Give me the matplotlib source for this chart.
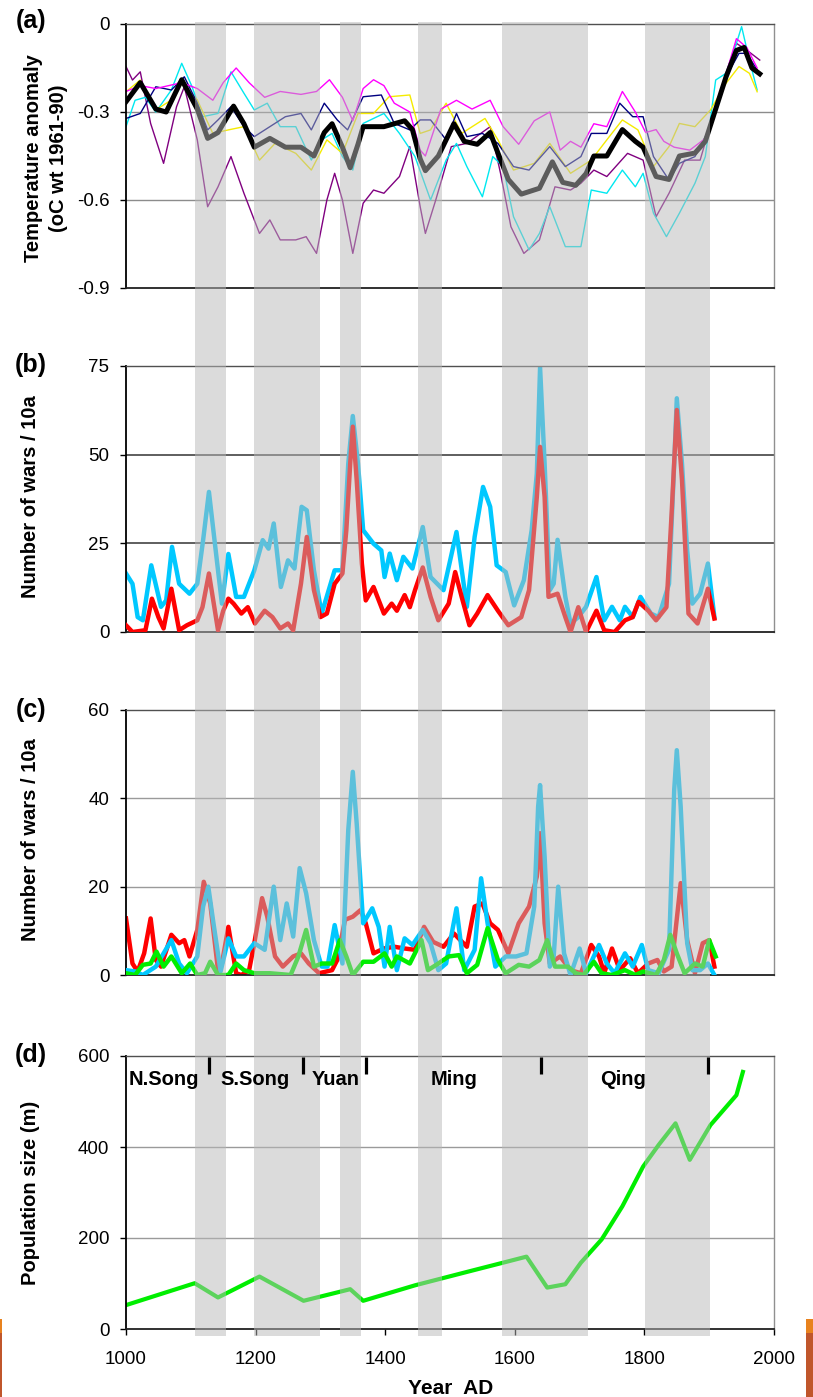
import matplotlib
matplotlib.use("Agg")
import matplotlib.pyplot as plt
from matplotlib import transforms
from matplotlib.patches import Rectangle

plt.rcParams['font.family'] = ['Liberation Sans', 'DejaVu Sans']

# ---------------- data ----------------
# cold phases (shaded)
band_start = [1107, 1197, 1330, 1450, 1581, 1801]
band_end = [1154, 1300, 1363, 1488, 1713, 1902]

# (a) temperature reconstructions, anomaly wrt 1961-90
comp_yr = [1000, 1022, 1046, 1062, 1086, 1110, 1126, 1142, 1166, 1182, 1198, 1222, 1246, 1270,
           1290, 1306, 1318, 1334, 1346, 1358, 1366, 1398, 1430, 1442, 1454, 1462, 1482, 1506,
           1522, 1542, 1562, 1574, 1590, 1610, 1638, 1658, 1674, 1694, 1710, 1722, 1742, 1766,
           1786, 1798, 1818, 1838, 1854, 1878, 1894, 1910, 1926, 1942, 1954, 1966, 1978]
comp_val = [-0.265, -0.20, -0.29, -0.30, -0.19, -0.29, -0.39, -0.37, -0.28, -0.34, -0.42, -0.39,
            -0.42, -0.42, -0.45, -0.37, -0.34, -0.42, -0.49, -0.41, -0.35, -0.35, -0.33, -0.36,
            -0.46, -0.50, -0.45, -0.34, -0.40, -0.41, -0.37, -0.44, -0.53, -0.58, -0.56, -0.47,
            -0.54, -0.55, -0.51, -0.45, -0.45, -0.36, -0.40, -0.42, -0.52, -0.53, -0.45, -0.44,
            -0.40, -0.29, -0.18, -0.09, -0.08, -0.15, -0.17]

mag_yr = [1000, 1022, 1046, 1086, 1110, 1134, 1150, 1170, 1190, 1214, 1238, 1270, 1294, 1314,
          1334, 1350, 1366, 1382, 1398, 1414, 1438, 1454, 1462, 1486, 1510, 1534, 1562, 1582,
          1606, 1630, 1654, 1670, 1686, 1702, 1722, 1742, 1766, 1786, 1802, 1818, 1830, 1846,
          1870, 1894, 1910, 1926, 1942, 1958, 1974]
mag_val = [-0.23, -0.21, -0.22, -0.20, -0.22, -0.26, -0.20, -0.15, -0.20, -0.25, -0.23, -0.24,
           -0.23, -0.19, -0.25, -0.33, -0.22, -0.19, -0.21, -0.27, -0.30, -0.43, -0.45, -0.29,
           -0.26, -0.29, -0.26, -0.35, -0.41, -0.33, -0.30, -0.43, -0.40, -0.42, -0.34, -0.35,
           -0.23, -0.30, -0.37, -0.36, -0.40, -0.42, -0.43, -0.39, -0.28, -0.17, -0.05, -0.08,
           -0.15]

cyan_yr = [1000, 1014, 1030, 1046, 1070, 1086, 1102, 1118, 1142, 1162, 1182, 1198, 1218, 1238,
           1262, 1286, 1302, 1318, 1334, 1350, 1366, 1398, 1422, 1446, 1470, 1494, 1510, 1526,
           1550, 1566, 1582, 1598, 1622, 1638, 1654, 1678, 1702, 1718, 1742, 1766, 1786, 1798,
           1814, 1834, 1854, 1878, 1894, 1910, 1926, 1942, 1950, 1962, 1974]
cyan_val = [-0.35, -0.26, -0.25, -0.30, -0.225, -0.134, -0.214, -0.316, -0.305, -0.163, -0.236,
            -0.293, -0.27, -0.35, -0.35, -0.464, -0.395, -0.373, -0.452, -0.498, -0.339, -0.305,
            -0.373, -0.452, -0.60, -0.464, -0.407, -0.486, -0.589, -0.452, -0.486, -0.657, -0.77,
            -0.714, -0.623, -0.759, -0.759, -0.566, -0.577, -0.498, -0.555, -0.509, -0.645,
            -0.725, -0.645, -0.543, -0.452, -0.191, -0.168, -0.066, -0.009, -0.123, -0.225]

yel_yr = [1000, 1022, 1046, 1070, 1086, 1110, 1134, 1158, 1182, 1206, 1230, 1262, 1286, 1310,
          1334, 1358, 1382, 1406, 1438, 1454, 1470, 1494, 1518, 1554, 1574, 1598, 1630, 1654,
          1686, 1718, 1742, 1766, 1790, 1814, 1838, 1854, 1878, 1902, 1926, 1946, 1962, 1974]
yel_val = [-0.231, -0.191, -0.293, -0.259, -0.202, -0.259, -0.373, -0.361, -0.35, -0.464, -0.407,
           -0.441, -0.498, -0.395, -0.441, -0.305, -0.305, -0.248, -0.242, -0.373, -0.361, -0.27,
           -0.373, -0.322, -0.395, -0.498, -0.475, -0.407, -0.509, -0.464, -0.395, -0.327,
           -0.361, -0.486, -0.418, -0.339, -0.35, -0.293, -0.202, -0.145, -0.168, -0.231]

navy_yr = [1000, 1022, 1046, 1070, 1090, 1110, 1126, 1142, 1162, 1182, 1198, 1222, 1246, 1270,
           1286, 1306, 1326, 1342, 1366, 1394, 1414, 1438, 1454, 1470, 1494, 1510, 1526, 1550,
           1574, 1598, 1622, 1654, 1678, 1702, 1718, 1742, 1762, 1782, 1798, 1814, 1838, 1854,
           1878, 1902, 1926, 1946, 1958, 1974]
navy_val = [-0.322, -0.305, -0.214, -0.225, -0.18, -0.27, -0.361, -0.327, -0.282, -0.35, -0.384,
            -0.35, -0.316, -0.305, -0.361, -0.27, -0.327, -0.361, -0.248, -0.242, -0.339, -0.361,
            -0.327, -0.327, -0.395, -0.305, -0.384, -0.373, -0.407, -0.486, -0.498, -0.418,
            -0.486, -0.452, -0.373, -0.373, -0.27, -0.316, -0.316, -0.452, -0.532, -0.475,
            -0.452, -0.35, -0.18, -0.10, -0.10, -0.157]

pur_yr = [1000, 1010, 1022, 1038, 1058, 1078, 1090, 1110, 1126, 1142, 1162, 1182, 1206, 1222,
          1238, 1262, 1278, 1294, 1310, 1322, 1334, 1350, 1366, 1382, 1398, 1422, 1438, 1454,
          1462, 1478, 1502, 1526, 1562, 1578, 1594, 1614, 1638, 1662, 1686, 1702, 1722, 1742,
          1774, 1798, 1818, 1838, 1862, 1886, 1910, 1926, 1942, 1958, 1978]
pur_val = [-0.145, -0.191, -0.163, -0.339, -0.475, -0.282, -0.214, -0.395, -0.623, -0.555,
           -0.452, -0.577, -0.714, -0.668, -0.736, -0.736, -0.725, -0.782, -0.60, -0.509, -0.60,
           -0.782, -0.611, -0.566, -0.577, -0.52, -0.418, -0.623, -0.714, -0.60, -0.418, -0.407,
           -0.35, -0.509, -0.691, -0.782, -0.736, -0.555, -0.566, -0.543, -0.498, -0.52, -0.441,
           -0.464, -0.657, -0.577, -0.464, -0.464, -0.282, -0.168, -0.066, -0.089, -0.123]

# (b) war frequency per decade
b_blue_yr = [1000, 1010, 1018, 1026, 1039, 1054, 1062, 1071, 1082, 1098, 1110, 1119, 1128, 1136,
             1148, 1158, 1170, 1182, 1198, 1211, 1220, 1228, 1239, 1250, 1260, 1271, 1279, 1290,
             1302, 1322, 1334, 1343, 1350, 1358, 1366, 1382, 1394, 1399, 1407, 1418, 1428, 1442,
             1458, 1470, 1490, 1510, 1526, 1538, 1551, 1562, 1572, 1586, 1599, 1614, 1626, 1634,
             1639, 1646, 1654, 1660, 1666, 1678, 1686, 1698, 1710, 1726, 1738, 1750, 1762, 1770,
             1782, 1794, 1810, 1822, 1838, 1846, 1850, 1858, 1866, 1874, 1886, 1898, 1908]
b_blue_val = [16.5, 13.6, 4.2, 3.3, 18.8, 7.1, 8.9, 24.0, 13.6, 10.8, 13.6, 25.9, 39.5, 26.8,
              8.0, 22.0, 9.9, 9.9, 17.4, 25.9, 23.5, 30.6, 12.7, 20.2, 17.9, 35.3, 34.3, 17.4,
              5.2, 17.4, 17.4, 47.5, 60.9, 47.5, 28.7, 24.9, 23.0, 15.5, 22.1, 14.6, 21.2, 17.9,
              29.6, 15.5, 11.8, 28.2, 7.1, 26.8, 40.9, 35.3, 18.8, 16.9, 7.5, 14.6, 28.7, 44.7,
              74.6, 47.5, 11.8, 13.6, 26.0, 9.9, 2.4, 4.2, 7.1, 15.5, 3.3, 7.1, 3.3, 7.1, 4.2,
              9.9, 5.2, 4.2, 13.6, 47.5, 65.9, 47.5, 23.0, 8.0, 10.8, 19.3, 4.2]

b_red_yr = [1000, 1010, 1030, 1040, 1050, 1058, 1070, 1082, 1094, 1110, 1118, 1128, 1142, 1150,
            1158, 1166, 1178, 1188, 1199, 1214, 1226, 1238, 1250, 1258, 1270, 1279, 1290, 1300,
            1310, 1322, 1334, 1340, 1346, 1350, 1356, 1364, 1370, 1382, 1398, 1410, 1418, 1430,
            1438, 1446, 1458, 1470, 1482, 1498, 1508, 1518, 1530, 1542, 1558, 1574, 1590, 1610,
            1622, 1634, 1639, 1646, 1652, 1666, 1678, 1686, 1698, 1710, 1726, 1738, 1754, 1770,
            1782, 1791, 1806, 1818, 1834, 1842, 1850, 1858, 1868, 1882, 1898, 1908]
b_red_val = [1.9, 0.0, 0.5, 9.4, 4.2, 1.0, 12.2, 0.5, 1.9, 3.3, 7.0, 16.5, 0.5, 6.0, 9.4, 8.0,
             5.2, 7.0, 2.4, 6.0, 4.2, 1.0, 2.4, 0.5, 13.6, 26.8, 11.8, 4.2, 5.2, 13.6, 16.5, 28.7,
             47.5, 57.9, 42.8, 19.3, 8.9, 12.7, 5.2, 8.0, 6.0, 10.4, 7.0, 11.8, 18.2, 9.9, 3.3,
             8.0, 16.9, 9.9, 1.9, 5.2, 10.4, 6.0, 1.9, 4.2, 11.8, 38.1, 52.2, 38.1, 9.9, 10.8,
             4.2, 0.0, 7.0, 0.0, 6.0, 0.5, 0.0, 3.3, 4.2, 8.5, 6.0, 3.3, 7.0, 33.4, 62.6, 42.8,
             5.2, 2.4, 12.2, 3.8]

# (c) war frequency per decade, by region
c_red_yr = [1000, 1010, 1018, 1028, 1038, 1046, 1054, 1070, 1082, 1090, 1098, 1110, 1120, 1130,
            1142, 1148, 1158, 1170, 1178, 1190, 1198, 1210, 1218, 1230, 1242, 1258, 1270, 1282,
            1298, 1318, 1326, 1338, 1350, 1362, 1370, 1382, 1398, 1414, 1430, 1446, 1460, 1474,
            1490, 1506, 1526, 1538, 1550, 1562, 1574, 1590, 1606, 1622, 1634, 1639, 1646, 1654,
            1670, 1686, 1702, 1718, 1730, 1738, 1750, 1762, 1778, 1790, 1806, 1820, 1830, 1842,
            1856, 1866, 1878, 1890, 1900, 1908]
c_red_val = [12.8, 2.6, 0.8, 4.9, 12.8, 3.4, 1.9, 9.1, 7.2, 7.9, 4.2, 10.2, 21.1, 16.2, 1.1, 2.6,
             10.9, 0.4, 0.0, 1.1, 7.2, 17.4, 13.2, 4.2, 1.9, 4.2, 4.9, 2.6, 0.4, 1.1, 3.4, 12.5,
             13.2, 14.7, 11.7, 4.9, 6.0, 6.4, 6.0, 5.7, 10.9, 7.5, 6.4, 9.4, 6.4, 15.5, 16.2,
             11.7, 10.2, 4.9, 11.7, 15.5, 22.3, 32.1, 11.7, 2.6, 4.2, 1.1, 0.4, 6.8, 4.2, 0.4,
             6.0, 1.1, 3.8, 0.4, 2.6, 3.4, 0.8, 1.9, 20.8, 7.9, 0.4, 7.2, 7.9, 1.9]

c_blue_yr = [1000, 1014, 1026, 1046, 1070, 1082, 1094, 1110, 1119, 1127, 1135, 1146, 1158, 1170,
             1182, 1198, 1214, 1228, 1238, 1248, 1258, 1268, 1278, 1290, 1302, 1311, 1322, 1334,
             1343, 1350, 1356, 1366, 1380, 1390, 1399, 1407, 1418, 1430, 1442, 1458, 1470, 1482,
             1494, 1510, 1522, 1538, 1548, 1558, 1570, 1586, 1602, 1618, 1630, 1636, 1639, 1646,
             1654, 1660, 1667, 1676, 1686, 1700, 1710, 1730, 1742, 1754, 1770, 1782, 1796, 1806,
             1822, 1838, 1846, 1850, 1856, 1866, 1874, 1886, 1898, 1908]
c_blue_val = [1.1, 0.8, 0.0, 1.9, 7.9, 2.6, 0.4, 4.2, 15.5, 20.0, 11.7, 0.8, 8.3, 4.2, 4.2, 7.2,
              5.7, 20.0, 7.9, 16.2, 8.7, 24.2, 18.5, 7.9, 1.9, 1.9, 11.3, 2.6, 32.8, 46.0, 34.3,
              11.7, 15.1, 10.9, 1.9, 10.9, 1.1, 8.3, 6.8, 10.2, 7.2, 1.1, 2.6, 15.1, 1.1, 5.7,
              21.9, 11.7, 1.9, 4.2, 4.2, 4.9, 15.5, 38.1, 43.0, 26.8, 1.9, 4.2, 20.0, 4.9, 0.0,
              6.0, 0.4, 6.8, 2.6, 0.4, 4.9, 1.9, 6.8, 1.1, 0.4, 5.7, 41.9, 50.9, 38.1, 7.2, 1.1,
              1.1, 2.6, 0.0]

c_green_yr = [1000, 1014, 1026, 1038, 1047, 1058, 1070, 1086, 1099, 1110, 1122, 1130, 1142, 1158,
              1170, 1182, 1198, 1222, 1254, 1266, 1278, 1290, 1302, 1318, 1330, 1340, 1350, 1366,
              1382, 1399, 1410, 1418, 1438, 1456, 1466, 1482, 1498, 1514, 1526, 1542, 1558, 1574,
              1586, 1606, 1622, 1638, 1650, 1662, 1682, 1694, 1706, 1722, 1734, 1750, 1770, 1786,
              1798, 1818, 1830, 1840, 1850, 1862, 1878, 1890, 1900, 1910]
c_green_val = [0.4, 0.0, 2.3, 2.6, 5.3, 1.9, 4.2, 0.4, 2.6, 0.0, 0.4, 3.0, 0.0, 0.0, 2.6, 1.1,
               0.4, 0.4, 0.0, 4.2, 10.2, 1.9, 2.6, 2.6, 7.9, 4.2, 0.0, 3.0, 3.0, 4.9, 1.9, 4.2,
               2.6, 7.9, 1.1, 2.6, 4.2, 4.5, 0.4, 2.3, 10.6, 3.4, 0.4, 2.3, 1.9, 3.4, 7.9, 1.9,
               1.9, 0.4, 0.0, 3.0, 0.4, 0.0, 1.1, 0.0, 0.8, 0.0, 3.4, 9.1, 4.9, 0.4, 2.6, 1.9,
               7.9, 4.2]

# (d) population size (million)
pop_yr = [1000, 1106, 1142, 1206, 1274, 1346, 1366, 1446, 1526, 1582, 1618, 1650, 1678, 1702,
          1734, 1766, 1798, 1822, 1848, 1870, 1902, 1942, 1952]
pop_val = [52.5, 100.6, 69.3, 115.2, 62.0, 87.5, 62.0, 96.0, 125.4, 145.8, 159.0, 91.0, 98.4,
           145.8, 196.8, 269.7, 357.0, 404.6, 452.0, 371.8, 448.3, 514.0, 565.0]

dyn_names = ['N.Song', 'S.Song', 'Yuan', 'Ming', 'Qing']
dyn_label_yr = [1004, 1145, 1286, 1470, 1731]
dyn_end = [1128, 1273, 1370, 1640, 1898]

a_ticks = [0, -0.3, -0.6, -0.9]
a_ticklabels = ['0', '-0.3', '-0.6', '-0.9']
b_ticks = [0, 25, 50, 75]
c_ticks = [0, 20, 40, 60]
d_ticks = [0, 200, 400, 600]
x_ticks = [1000, 1200, 1400, 1600, 1800, 2000]

# ---------------- layout ----------------
W, H = 813, 1397
fig = plt.figure(figsize=(W / 100, H / 100), dpi=100)


def fx(px):
    return px / W


def fy(py):
    return 1 - py / H


X0, X1 = 126, 774


def make_axes(top, bottom):
    return fig.add_axes([fx(X0), fy(bottom), (X1 - X0) / W, (bottom - top) / H])


def style(ax, ticks, labels, lo, hi, grid_color, grid_lw, show_x=False):
    ax.set_xlim(1000, 2000)
    ax.set_ylim(lo, hi)
    ax.set_yticks(ticks)
    ax.set_yticklabels(labels, fontsize=13.5)
    ax.tick_params(axis='y', direction='out', length=4, width=1, pad=8, colors='black')
    for t in ticks:
        if lo < t < hi:
            ax.axhline(t, color=grid_color, lw=grid_lw, zorder=0.5)
    if show_x:
        ax.set_xticks(x_ticks)
        ax.set_xticklabels([str(v) for v in x_ticks], fontsize=13.5)
        ax.tick_params(axis='x', direction='out', length=4, width=1, pad=12)
    else:
        ax.set_xticks([])
    ax.spines['left'].set_color('black')
    ax.spines['left'].set_linewidth(1.3)
    ax.spines['bottom'].set_color('#202020')
    ax.spines['bottom'].set_linewidth(1.3)
    ax.spines['top'].set_color('#505050')
    ax.spines['top'].set_linewidth(1.0)
    ax.spines['right'].set_color('#909090')
    ax.spines['right'].set_linewidth(1.0)


# (a)
ax_a = make_axes(24, 288)
style(ax_a, a_ticks, a_ticklabels, -0.9, 0, '#8c8c8c', 1.0)
thin = 1.0
ax_a.plot(pur_yr, pur_val, color='#800080', lw=thin, zorder=2)
ax_a.plot(cyan_yr, cyan_val, color='#00e8f0', lw=thin, zorder=2)
ax_a.plot(yel_yr, yel_val, color='#f5eb00', lw=thin, zorder=2)
ax_a.plot(navy_yr, navy_val, color='#000080', lw=thin, zorder=2)
ax_a.plot(mag_yr, mag_val, color='#ff00ff', lw=thin, zorder=2)
ax_a.plot(comp_yr, comp_val, color='black', lw=3.6, zorder=3, solid_joinstyle='round')

# (b)
ax_b = make_axes(366, 632)
style(ax_b, b_ticks, [str(t) for t in b_ticks], 0, 75, '#333333', 1.1)
ax_b.plot(b_blue_yr, b_blue_val, color='#00c8ff', lw=3.2, zorder=2)
ax_b.plot(b_red_yr, b_red_val, color='#ff0000', lw=3.2, zorder=3)

# (c)
ax_c = make_axes(710, 975)
style(ax_c, c_ticks, [str(t) for t in c_ticks], 0, 60, '#9a9a9a', 1.0)
ax_c.plot(c_red_yr, c_red_val, color='#ff0000', lw=3.2, zorder=2)
ax_c.plot(c_blue_yr, c_blue_val, color='#00c8ff', lw=3.2, zorder=3)
ax_c.plot(c_green_yr, c_green_val, color='#00ee00', lw=3.2, zorder=4)

# (d)
ax_d = make_axes(1056, 1329)
style(ax_d, d_ticks, [str(t) for t in d_ticks], 0, 600, '#9a9a9a', 1.0, show_x=True)
ax_d.plot(pop_yr, pop_val, color='#00ee00', lw=3.0, zorder=2)

# shaded cold phases, laid semi-transparently over all panels
ov = fig.add_axes([fx(X0), fy(1336), (X1 - X0) / W, (1336 - 22) / H], zorder=5)
ov.set_xlim(1000, 2000)
ov.set_ylim(0, 1)
ov.set_facecolor('none')
ov.axis('off')
for s, e in zip(band_start, band_end):
    ov.axvspan(s, e, color='#b9b9b9', alpha=0.5, lw=0, zorder=1)

# dynasty boundaries and names on top of the shading
tr = transforms.blended_transform_factory(ov.transData, ax_d.transData)
for x in dyn_end:
    ov.plot([x, x], [560, 597], color='black', lw=2.3, transform=tr, clip_on=False,
            zorder=10, solid_capstyle='butt')
for name, x in zip(dyn_names, dyn_label_yr):
    ov.text(x, 549, name, transform=tr, fontsize=14.5, fontweight='bold', ha='left',
            va='center', zorder=10, clip_on=False)

# panel letters and axis titles
for letter, yc in zip(['(a)', '(b)', '(c)', '(d)'], [21, 365, 710, 1055]):
    fig.text(fx(31), fy(yc), letter, fontsize=18, fontweight='bold', ha='center', va='center')

fig.text(fx(46), fy(158), 'Temperature anomaly\n(oC wt 1961-90)', rotation=90,
         ha='center', va='center', fontsize=14.5, fontweight='bold', linespacing=1.4,
         multialignment='center')
fig.text(fx(31), fy(497), 'Number of wars / 10a', rotation=90, ha='center', va='center',
         fontsize=14.5, fontweight='bold')
fig.text(fx(31), fy(840), 'Number of wars / 10a', rotation=90, ha='center', va='center',
         fontsize=14.5, fontweight='bold')
fig.text(fx(31), fy(1193), 'Population size (m)', rotation=90, ha='center', va='center',
         fontsize=14.5, fontweight='bold')
fig.text(fx(451), fy(1388), 'Year  AD', ha='center', va='center', fontsize=15,
         fontweight='bold')

# slide edge strips at the bottom corners
for x0, wdt in [(0, 1.5), (806, 7)]:
    fig.add_artist(Rectangle((fx(x0), 0), wdt / W, (H - 1333) / H, color='#c0562b',
                             transform=fig.transFigure, lw=0))
    fig.add_artist(Rectangle((fx(x0), fy(1333)), wdt / W, 14 / H, color='#e8821e',
                             transform=fig.transFigure, lw=0))

fig.savefig('out.png', dpi=100)
